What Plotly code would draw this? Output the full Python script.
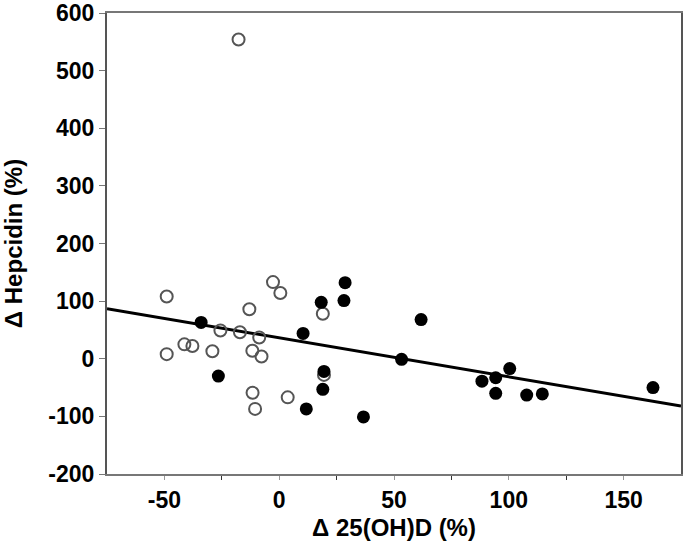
import plotly.graph_objects as go

# Open circles (group 1)
open_x = [-49.0, -49.0, -41.3, -37.8, -29.1, -25.6, -17.1, -13.0, -8.7, -11.7, -7.7,
          -2.7, 0.5, -11.6, -10.5, 3.7, 19.0, 19.5, -17.7]
open_y = [108, 8, 25, 22, 13, 49, 46, 86, 37, 14, 4,
          133, 114, -59, -87, -67, 78, -28, 554]

# Filled circles (group 2)
fill_x = [-34.0, -26.5, 10.4, 18.3, 28.7, 28.2, 19.5, 19.0, 11.8, 36.7,
          61.8, 53.3, 88.3, 94.3, 100.4, 94.3, 107.8, 114.6, 162.8]
fill_y = [63, -30, 44, 98, 132, 101, -22, -53, -87, -101,
          68, -1, -39, -33, -17, -60, -63, -61, -50]

# Regression line end points
line_x = [-75, 175]
line_y = [87, -82]

x_ticks = [-50, 0, 50, 100, 150]
x_minor = [-25, 25, 75, 125]
y_ticks = [-200, -100, 0, 100, 200, 300, 400, 500, 600]

FONT = "Liberation Sans, Arial, sans-serif"
TICKSIZE = 23
TITLESIZE = 24

fig = go.Figure()
fig.add_trace(go.Scatter(x=line_x, y=line_y, mode="lines",
                         line=dict(color="black", width=3), showlegend=False))
fig.add_trace(go.Scatter(x=open_x, y=open_y, mode="markers",
                         marker=dict(symbol="circle-open", size=12,
                                     line=dict(color="#555555", width=2), color="#555555"),
                         showlegend=False))
fig.add_trace(go.Scatter(x=fill_x, y=fill_y, mode="markers",
                         marker=dict(symbol="circle", size=13, color="black"),
                         showlegend=False))

fig.update_layout(
    width=684, height=543,
    margin=dict(l=107, r=3, t=13, b=69),
    plot_bgcolor="white", paper_bgcolor="white",
    font=dict(family=FONT, size=TICKSIZE, color="black"),
    xaxis=dict(range=[-75, 175], tickvals=x_ticks, ticktext=[str(v) for v in x_ticks],
               automargin=False, ticklabeloverflow="allow",
               showgrid=False, zeroline=False, showline=True, linecolor="#777777",
               linewidth=2, mirror=True, ticks="outside", ticklen=4, tickcolor="#999999",
               tickfont=dict(family=FONT, size=TICKSIZE, color="black", weight="bold"),
               minor=dict(tickvals=x_minor, ticks="outside", ticklen=4,
                          tickcolor="#333333"),
               title=dict(text="<b>Δ 25(OH)D (%)</b>", standoff=8,
                          font=dict(family=FONT, size=TITLESIZE, color="black"))),
    yaxis=dict(range=[-200, 600], tickvals=y_ticks, ticktext=[str(v) for v in y_ticks],
               automargin=False, ticklabeloverflow="allow",
               showgrid=False, zeroline=False, showline=True, linecolor="#555555",
               linewidth=2, mirror=True, ticks="outside", ticklen=6, tickcolor="#777777",
               tickfont=dict(family=FONT, size=TICKSIZE, color="black", weight="bold"),
               title=dict(text="<b>Δ Hepcidin (%)</b>", standoff=20,
                          font=dict(family=FONT, size=TITLESIZE, color="black"))),
)

fig.write_html("out.html", config={"displayModeBar": False},
               post_script="document.body.style.margin='0';document.body.style.overflow='hidden';")
